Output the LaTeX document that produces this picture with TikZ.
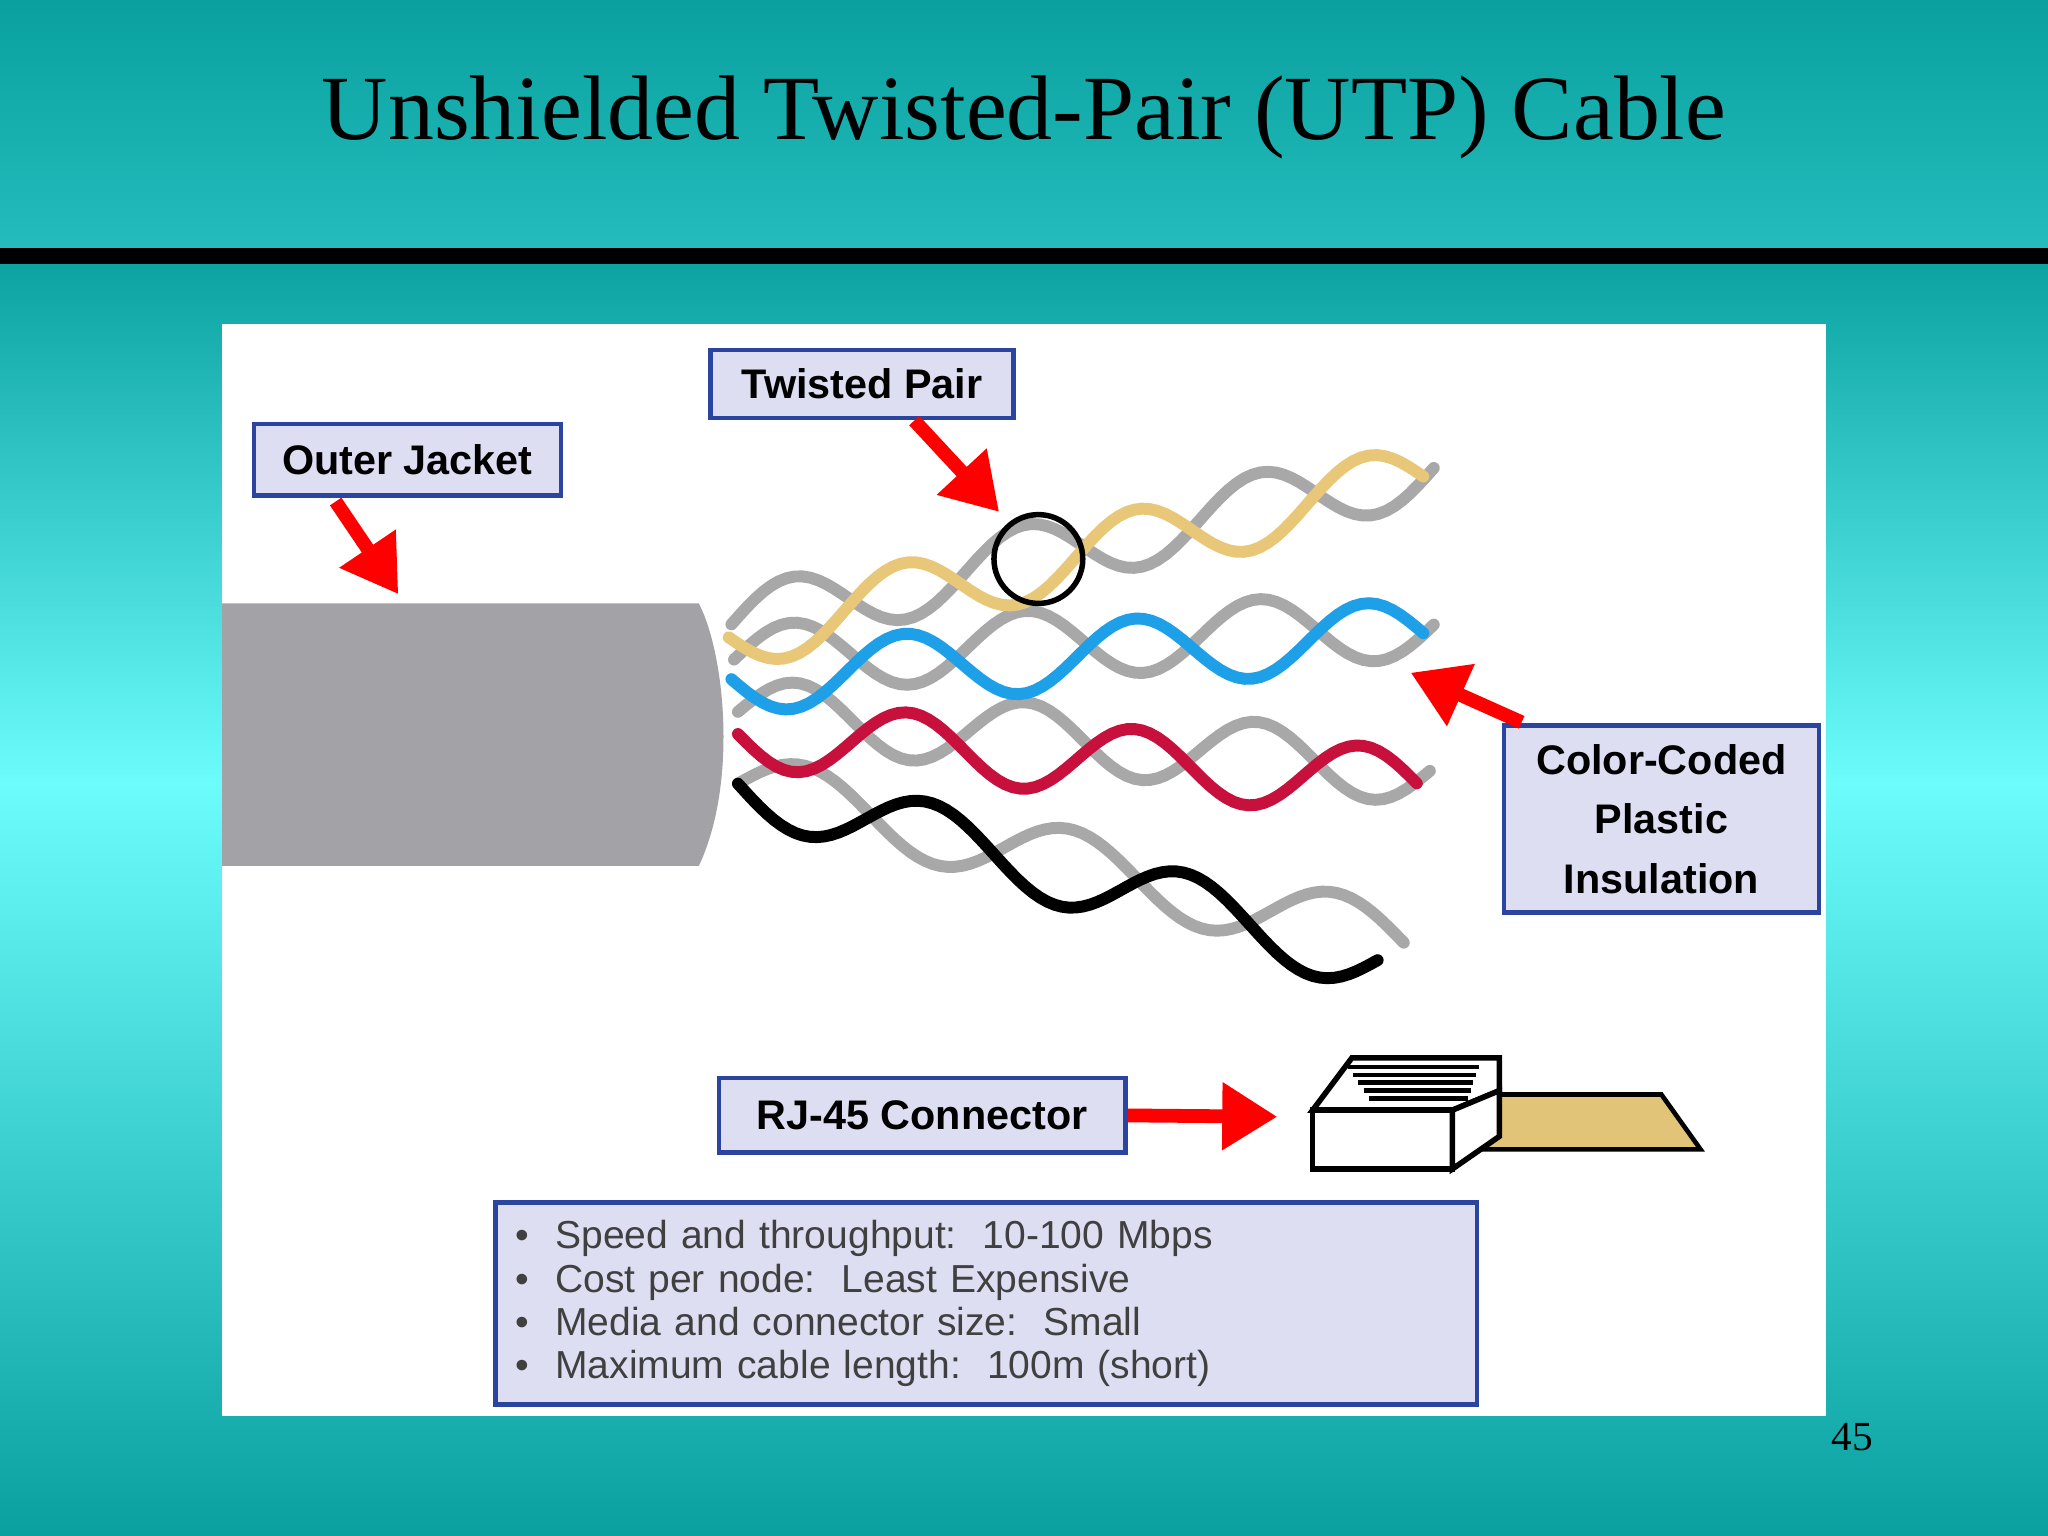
\documentclass[tikz,border=0pt]{standalone}
\usepackage{fontspec}
\setmainfont{Liberation Serif}
\newfontfamily\labelfont{Liberation Sans}
\usetikzlibrary{arrows.meta}
\definecolor{tealdark}{HTML}{0AA0A0}
\definecolor{tealmid}{HTML}{24BCBC}
\definecolor{cyanlight}{HTML}{6CFCFC}
\definecolor{jacketgray}{HTML}{A3A2A6}
\definecolor{pairgray}{HTML}{A8A8A8}
\definecolor{wireyellow}{HTML}{E8C878}
\definecolor{wireblue}{HTML}{1EA0E8}
\definecolor{wirered}{HTML}{C8103C}
\definecolor{boxfill}{HTML}{DEDEF2}
\definecolor{boxline}{HTML}{2A44A0}
\definecolor{plugtan}{HTML}{E2C478}
\newcommand{\wirepath}[7]{% colour, x0,y0,x1,y1, phase, half periods
  \draw[wire=#1] plot[domain=0:1,samples=90]
    ({#2+\x*(#4-#2)},{#3+\x*(#5-#3)+26*sin(\x*#7*180+#6)});}
\tikzset{
  wire/.style={line width=2.6pt,color=#1,line cap=round},
  callout/.style={draw=boxline,line width=1pt,fill=boxfill,font=\labelfont\bfseries\fontsize{9}{11}\selectfont,
    inner sep=0pt,align=center},
  pointer/.style={red,line width=3pt,-{Triangle[length=12pt,width=14pt]}}
}
\begin{document}
\begin{tikzpicture}[x=0.01cm,y=-0.01cm]
\useasboundingbox (0,0) rectangle (1568,1176);
% background
\shade[top color=tealdark,bottom color=cyanlight] (0,190) rectangle (1568,600);
\shade[top color=cyanlight,bottom color=tealdark] (0,600) rectangle (1568,1176);
\shade[top color=tealdark,bottom color=tealmid] (0,0) rectangle (1568,190);
\fill[black] (0,190) rectangle (1568,202);
\node (title) at (784,90) {\fontsize{20}{24}\selectfont Unshielded Twisted-Pair (UTP) Cable};
\node (pagenum) at (1418,1100) {\fontsize{9}{10}\selectfont 45};
\fill[white] (170,248) rectangle (1398,1084);
% wires
\wirepath{pairgray}{560}{478}{1098}{358}{180}{6}
\wirepath{pairgray}{562}{505}{1098}{478}{180}{6}
\wirepath{pairgray}{565}{545}{1095}{590}{180}{6}
\wirepath{pairgray}{565}{600}{1075}{722}{180}{5}
\wirepath{wireyellow}{558}{488}{1090}{365}{0}{6}
\wirepath{wireblue}{560}{520}{1090}{485}{0}{6}
\wirepath{wirered}{565}{562}{1085}{600}{0}{6}
\wirepath{black}{565}{600}{1055}{735}{0}{5}
% jacket
\fill[jacketgray] (170,462) -- (535,462) .. controls (555,500) and (565,600) .. (535,663) -- (170,663) -- cycle;
\draw[line width=1.2pt] (795,428) circle (34);
% RJ-45 plug
\fill[plugtan,draw=black,line width=1pt] (1118,838) -- (1272,838) -- (1302,880) -- (1118,880) -- cycle;
\draw[fill=white,line width=1.2pt] (1005,850) -- (1035,810) -- (1148,810) -- (1148,835) -- (1112,850) -- cycle;
\draw[fill=white,line width=1.2pt] (1005,850) rectangle (1112,895);
\draw[fill=white,line width=1.2pt] (1112,850) -- (1148,835) -- (1148,870) -- (1112,895) -- cycle;
\foreach \k in {0,...,4}
  \draw[line width=1pt] (1032+\k*4,817+\k*6) -- (1132-\k*2,817+\k*6);
% callouts
\node[callout,minimum width=23.2mm,minimum height=5.2mm] (twisted) at (660,294) {Twisted Pair};
\node[callout,minimum width=23.5mm,minimum height=5.5mm] (jacket) at (312,352) {Outer Jacket};
\node[callout,minimum width=24.1mm,minimum height=14.3mm] (insul) at (1272,627)
  {Color-Coded\\[2pt]Plastic\\[2pt]Insulation};
\node[callout,minimum width=31.1mm,minimum height=5.7mm] (rj) at (706,854) {RJ-45 Connector};
\node[draw=boxline,line width=1pt,fill=boxfill,minimum width=75.1mm,minimum height=15.5mm,
  text width=72mm,inner sep=0pt,font=\labelfont\fontsize{8.5}{9.4}\selectfont,text=black!75] (specs) at (755,998)
  {\textbullet\ \ Speed and throughput:\ \ 10-100 Mbps\\
   \textbullet\ \ Cost per node:\ \ Least Expensive\\
   \textbullet\ \ Media and connector size:\ \ Small\\
   \textbullet\ \ Maximum cable length:\ \ 100m (short)};
\coordinate (jackettip) at (305,455);
\coordinate (pairtip) at (765,392);
\coordinate (insultip) at (1080,515);
\coordinate (plugtip) at (978,855);
\draw[pointer] (257,384) -- (jackettip);
\draw[pointer] (700,322) -- (pairtip);
\draw[pointer] (1165,553) -- (insultip);
\draw[pointer] (rj.east) -- (plugtip);
\end{tikzpicture}
\end{document}
